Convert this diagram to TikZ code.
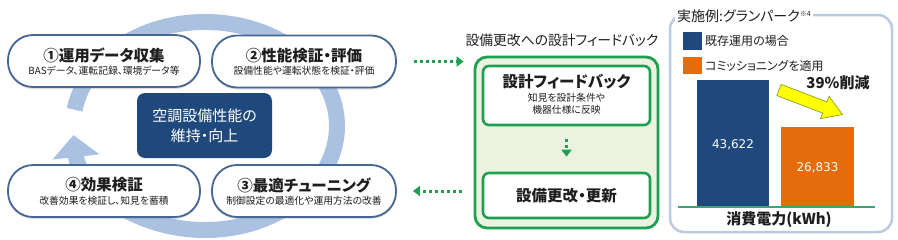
\documentclass[tikz,border=0pt]{standalone}
\usepackage{fontspec}
\setmainfont{Noto Sans CJK JP}[RawFeature=+palt]
\newfontfamily\numfont{DejaVu Sans}
\usetikzlibrary{arrows.meta,shadows}
\definecolor{ringc}{RGB}{170,193,226}
\definecolor{pillb}{RGB}{70,102,148}
\definecolor{navy}{RGB}{31,73,125}
\definecolor{grn}{RGB}{30,160,80}
\definecolor{grnfill}{RGB}{235,242,224}
\definecolor{panelb}{RGB}{186,202,224}
\definecolor{orng}{RGB}{228,108,10}
\definecolor{basel}{RGB}{60,165,115}
\definecolor{yel}{RGB}{255,255,0}
\definecolor{yeledge}{RGB}{150,170,40}
\definecolor{txt}{RGB}{30,30,30}
\begin{document}
\begin{tikzpicture}[x=1pt,y=-1pt,
  pill/.style={draw=pillb,line width=1.8pt,fill=white,rounded corners=25pt,
    minimum height=52pt,inner sep=0pt,
    drop shadow={opacity=0.25,shadow xshift=0pt,shadow yshift=-2pt}},
  ttl/.style={font=\bfseries\fontsize{15.5}{17}\selectfont,text=txt,inner sep=0pt},
  sub/.style={font=\fontsize{9.8}{11}\selectfont,text=txt,inner sep=0pt},
  gbox/.style={draw=grn,line width=2.6pt,fill=white,rounded corners=6pt,
    minimum width=167pt,inner sep=0pt},
  gdot/.style={grn,line width=3pt,dash pattern=on 3pt off 3pt,
    -{Triangle[width=10pt,length=7pt]}},
  ringline/.style={ringc,line width=16pt,-{Triangle[width=46pt,length=22pt]}}
]
\useasboundingbox (0,0) rectangle (898,239);
% cycle ring
\coordinate (rc) at (205,126);
\draw[ringline] ([shift={(189:132 and 104)}]rc)
   arc[start angle=189,end angle=535,x radius=132,y radius=104];
% pills
\node[pill,minimum width=192pt] (n1) at (104,61) {};
\node[pill,minimum width=184pt] (n2) at (304,61.5) {};
\node[pill,minimum width=184pt] (n3) at (304,191) {};
\node[pill,minimum width=192pt] (n4) at (104,191) {};
\node[ttl] (n1t) at ([yshift=6pt]n1.center) {①運用データ収集};
\node[sub] (n1s) at ([yshift=-9.5pt]n1.center) {BASデータ、運転記録、環境データ等};
\node[ttl] (n2t) at ([yshift=6pt]n2.center) {②性能検証・評価};
\node[sub] (n2s) at ([yshift=-9.5pt]n2.center) {設備性能や運転状態を検証・評価};
\node[ttl] (n3t) at ([yshift=6pt]n3.center) {③最適チューニング};
\node[sub] (n3s) at ([yshift=-9.5pt]n3.center) {制御設定の最適化や運用方法の改善};
\node[ttl] (n4t) at ([yshift=6pt]n4.center) {④効果検証};
\node[sub] (n4s) at ([yshift=-9.5pt]n4.center) {改善効果を検証し、知見を蓄積};
% centre box
\node[fill=navy,rounded corners=8pt,minimum width=135pt,minimum height=65pt,
  text=white,align=center,font=\fontsize{15}{20}\selectfont] (ctr) at (204.5,125.5)
  {空調設備性能の\\維持・向上};
% green panel
\node[font=\fontsize{13.8}{15}\selectfont,text=txt,inner sep=0pt] (gtitle) at (562,40) {設備更改への設計フィードバック};
\node[draw=grn,line width=2.8pt,fill=grnfill,rounded corners=12pt,
  minimum width=183pt,minimum height=171pt] (gp) at (566.5,142.5) {};
\node[gbox,minimum height=59pt] (fb) at (566.5,95.5) {};
\node[ttl] (fbt) at ([yshift=14pt]fb.center) {設計フィードバック};
\node[sub,align=center,font=\fontsize{9.8}{12}\selectfont] (fbs) at ([yshift=-8.5pt]fb.center) {知見を設計条件や\\機器仕様に反映};
\node[gbox,minimum height=45pt] (up) at (566.5,195.5) {};
\node[ttl] (upt) at (up.center) {設備更改・更新};
% dotted arrows
\draw[gdot,shorten <=17pt,shorten >=10pt] (n2.east) -- (gp.west |- n2.east);
\draw[gdot,shorten <=12pt,shorten >=16pt] (gp.west |- n3.east) -- (n3.east);
\draw[gdot,shorten <=13pt,shorten >=15pt] (fb.south) -- (up.north);
% right panel
\node[draw=panelb,line width=2.5pt,fill=white,rounded corners=14pt,
  minimum width=222pt,minimum height=217pt] (rp) at (781,123.5) {};
\node[fill=white,anchor=west,inner sep=2pt,text=txt] (rpt) at (675,16)
  {\fontsize{14}{16}\selectfont 実施例:グランパーク\raisebox{5pt}{\fontsize{7}{8}\selectfont ※4}};
\node[fill=navy,minimum width=19pt,minimum height=18pt,inner sep=0pt] (lg1) at (692.5,41) {};
\node[fill=orng,minimum width=19pt,minimum height=17pt,inner sep=0pt] (lg2) at (692.5,65.5) {};
\node[anchor=west,inner sep=0pt,text=txt,font=\fontsize{12}{14}\selectfont] (lg1t) at (705,41) {既存運用の場合};
\node[anchor=west,inner sep=0pt,text=txt,font=\fontsize{12}{14}\selectfont] (lg2t) at (705,65.5) {コミッショニングを適用};
% bars
\node[fill=navy,minimum width=72pt,minimum height=127pt,inner sep=0pt,anchor=south west] (b1) at (697,207) {};
\node[fill=orng,minimum width=73pt,minimum height=80pt,inner sep=0pt,anchor=south west] (b2) at (781,207) {};
\node[text=white,font=\numfont\fontsize{12}{14}\selectfont] (v1) at (733,145) {43,622};
\node[text=white,font=\numfont\fontsize{12}{14}\selectfont] (v2) at (817.5,168) {26,833};
\coordinate (bl1) at (678,207);
\coordinate (bl2) at (875,207);
\draw[basel,line width=1.5pt] (bl1) -- (bl2);
\node[font=\bfseries\fontsize{15}{17}\selectfont,text=txt] (axis) at (779,220) {消費電力(kWh)};
\node[font=\bfseries\fontsize{15}{17}\selectfont,text=txt,inner sep=0pt] (red) at (838,83) {39\%削減};
% yellow arrow
\draw[fill=yel,draw=yeledge,line width=0.8pt,line join=miter]
  (781.1,84.4) -- (826.9,101.9) -- (829.1,96.3) -- (842.5,114.5)
  -- (820.5,118.7) -- (822.7,113.1) -- (776.9,95.6) -- cycle;
\end{tikzpicture}
\end{document}
